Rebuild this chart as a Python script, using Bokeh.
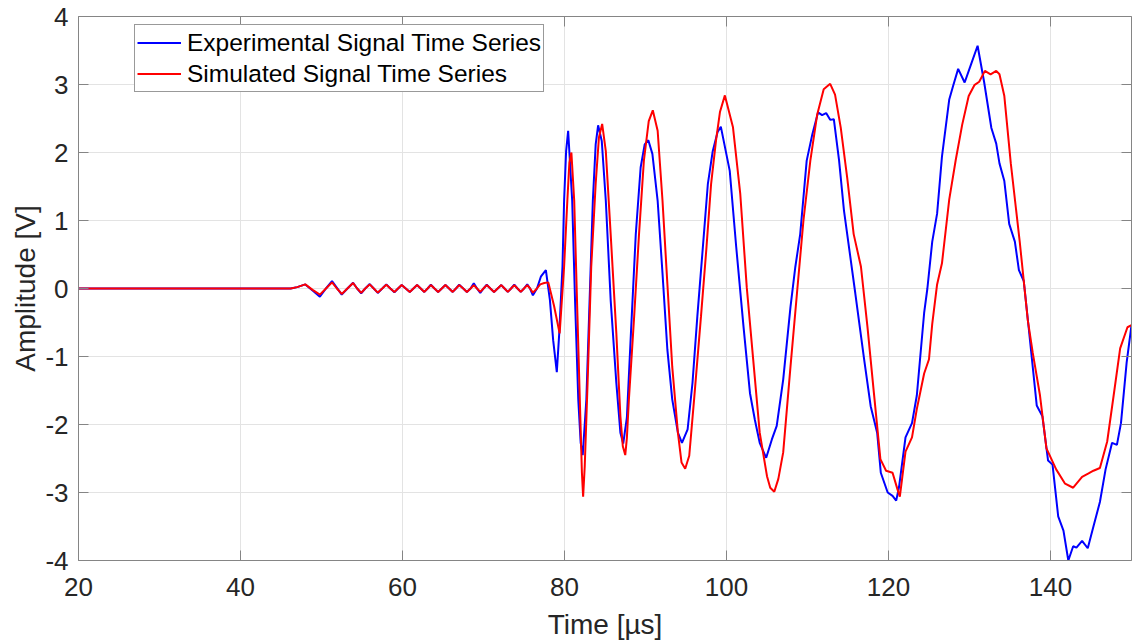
from bokeh.plotting import figure
from bokeh.models import Range1d, LinearAxis, FixedTicker, Legend, LegendItem
from bokeh.embed import file_html
from bokeh.resources import INLINE

# ---- data ----
exp_time = [20.0, 46.2, 47.0, 48.0, 48.9, 49.8, 50.55, 51.3, 51.9, 52.5, 53.2, 53.9, 54.4, 54.9,
            55.4, 55.95, 56.45, 56.95, 57.5, 58.0, 58.5, 59.0, 59.45, 59.9, 60.4, 60.9, 61.35,
            61.8, 62.25, 62.7, 63.1, 63.5, 63.95, 64.4, 64.85, 65.3, 65.75, 66.2, 66.6, 67.0,
            67.5, 67.95, 68.4, 68.8, 69.2, 69.6, 70.0, 70.4, 70.85, 71.3, 71.75, 72.2, 72.6,
            73.0, 73.4, 73.8, 74.2, 74.6, 75.0, 75.4, 75.75, 76.1, 76.6, 77.1, 77.7, 78.2,
            78.6, 79.05, 79.35, 79.75, 79.95, 80.2, 80.45, 80.95, 81.3, 81.7, 82.0, 82.25,
            82.7, 83.1, 83.5, 83.85, 84.15, 84.6, 85.1, 85.7, 86.4, 86.9, 87.25, 87.7, 88.2,
            88.8, 89.4, 89.9, 90.35, 90.85, 91.5, 92.1, 92.7, 93.3, 94.0, 94.5, 95.2, 95.8,
            96.4, 97.05, 97.7, 98.3, 98.9, 99.3, 100.4, 101.2, 102.1, 102.9, 103.5, 104.1,
            104.9, 105.6, 106.2, 107.0, 107.9, 108.5, 109.1, 109.9, 110.6, 111.3, 111.8,
            112.3, 112.8, 113.25, 113.9, 114.5, 115.9, 117.0, 117.8, 118.6, 119.05, 119.9,
            120.5, 120.95, 121.3, 122.1, 122.9, 123.5, 124.4, 124.8, 125.4, 126.0, 126.6,
            127.5, 128.0, 128.6, 129.4, 130.2, 131.0, 131.8, 132.7, 133.3, 133.7, 134.3,
            134.9, 135.6, 136.1, 136.7, 137.3, 138.3, 139.0, 139.7, 140.25, 140.95, 141.6,
            142.2, 142.8, 143.2, 143.9, 144.6, 145.3, 146.1, 146.8, 147.6, 148.2, 148.7,
            149.4, 150.0]
exp_amp = [0.0, 0.0, 0.02, 0.06, -0.03, -0.12, 0.0, 0.11, 0.01, -0.09, 0.0, 0.085, 0.0, -0.07,
           0.0, 0.065, 0.0, -0.065, 0.0, 0.06, 0.0, -0.055, 0.0, 0.05, 0.0, -0.05, 0.0,
           0.05, 0.0, -0.05, 0.0, 0.055, 0.0, -0.05, 0.0, 0.05, 0.0, -0.05, 0.0, 0.055,
           0.0, -0.05, 0.0, 0.075, 0.0, -0.065, 0.0, 0.055, 0.0, -0.05, 0.0, 0.05, 0.0,
           -0.05, 0.0, 0.055, 0.0, -0.05, 0.0, 0.06, 0.0, -0.10, 0.0, 0.18, 0.27, -0.17,
           -0.76, -1.23, -0.66, 0.32, 1.29, 2.02, 2.32, 1.29, -0.17, -1.63, -2.27, -2.45,
           -1.63, -0.17, 1.29, 2.12, 2.40, 2.17, 1.29, -0.17, -1.39, -2.12, -2.28, -1.9, -0.66,
           0.80, 1.78, 2.12, 2.18, 1.98, 1.29, 0.22, -0.9, -1.63, -2.12, -2.27, -2.07, -1.39,
           -0.41, 0.56, 1.54, 2.02, 2.30, 2.38, 1.73, 0.61, -0.56, -1.54, -1.93, -2.27,
           -2.49, -2.22, -2.02, -1.34, -0.27, 0.32, 0.80, 1.88, 2.27, 2.59, 2.55,
           2.58, 2.48, 2.49, 1.88, 1.15, -0.07, -1.05, -1.73, -2.12, -2.71, -3.0,
           -3.05, -3.12, -2.92, -2.19, -1.98, -1.57, -0.36, 0.0, 0.69, 1.10, 1.94,
           2.78, 2.99, 3.23, 3.03, 3.30, 3.57, 3.04, 2.36, 2.13, 1.84, 1.58,
           0.95, 0.69, 0.27, 0.11, -0.57, -1.72, -1.88, -2.53, -2.59, -3.35, -3.56,
           -4.0, -3.79, -3.81, -3.71, -3.82, -3.50, -3.14, -2.66, -2.27, -2.30, -1.98,
           -1.09, -0.54]

sim_time = [20.0, 46.2, 47.0, 48.0, 48.9, 49.8, 50.55, 51.3, 51.9, 52.5, 53.2, 53.9, 54.4, 54.9,
            55.4, 55.95, 56.45, 56.95, 57.5, 58.0, 58.5, 59.0, 59.45, 59.9, 60.4, 60.9, 61.35,
            61.8, 62.25, 62.7, 63.1, 63.5, 63.95, 64.4, 64.85, 65.3, 65.75, 66.2, 66.6, 67.0,
            67.5, 67.95, 68.4, 68.8, 69.2, 69.6, 70.0, 70.4, 70.85, 71.3, 71.75, 72.2, 72.6,
            73.0, 73.4, 73.8, 74.2, 74.6, 75.0, 75.4, 75.75, 76.1, 76.6, 77.0, 77.5, 78.0,
            78.7, 79.4, 79.95, 80.35, 80.6, 80.85, 81.2, 81.6, 81.95, 82.15, 82.3, 82.5,
            82.85, 83.3, 83.85, 84.25, 84.65, 85.1, 85.7, 86.4, 86.9, 87.2, 87.5, 87.7,
            87.95, 88.6, 89.2, 89.8, 90.4, 90.9, 91.5, 92.1, 92.7, 93.3, 94.0, 94.45, 94.9,
            95.4, 96.0, 96.85, 97.5, 98.1, 98.7, 99.2, 99.8, 100.8, 101.7, 102.5, 103.3,
            104.1, 105.0, 105.4, 105.9, 106.4, 107.0, 107.9, 108.7, 109.5, 110.35, 111.2,
            112.0, 112.8, 113.4, 114.1, 114.9, 115.7, 116.6, 117.4, 118.2, 119.0, 119.7,
            120.5, 121.1, 121.4, 122.1, 122.9, 123.5, 124.4, 125.0, 125.4, 126.0, 126.6,
            127.5, 128.3, 129.1, 129.9, 130.6, 131.2, 131.9, 132.6, 133.3, 133.7, 134.3,
            135.1, 136.2, 137.2, 137.8, 138.7, 139.5, 140.7, 141.8, 142.8, 143.9, 144.7,
            145.3, 146.1, 147.0, 147.8, 148.6, 149.5, 150.0]
sim_amp = [0.0, 0.0, 0.02, 0.06, -0.02, -0.09, 0.0, 0.09, 0.0, -0.08, 0.0, 0.08, 0.0, -0.065,
           0.0, 0.06, 0.0, -0.06, 0.0, 0.055, 0.0, -0.05, 0.0, 0.05, 0.0, -0.05, 0.0,
           0.05, 0.0, -0.05, 0.0, 0.05, 0.0, -0.05, 0.0, 0.05, 0.0, -0.05, 0.0, 0.05,
           0.0, -0.05, 0.0, 0.05, 0.0, -0.05, 0.0, 0.05, 0.0, -0.05, 0.0, 0.05, 0.0,
           -0.05, 0.0, 0.05, 0.0, -0.05, 0.0, 0.05, 0.0, -0.06, 0.0, 0.06, 0.08, 0.09,
           -0.25, -0.66, 0.32, 1.29, 1.85, 2.0, 1.29, -0.41, -1.88, -2.71, -3.06, -2.61,
           -1.39, 0.32, 1.54, 2.22, 2.42, 2.02, 0.80, -0.66, -1.88, -2.32, -2.45, -2.2,
           -1.63, -0.41, 0.8, 1.88, 2.46, 2.62, 2.32, 1.29, 0.07, -1.15, -2.12, -2.56, -2.65,
           -2.46, -1.63, -0.41, 0.56, 1.54, 2.17, 2.6, 2.84, 2.37, 1.39, 0.02, -1.05,
           -2.12, -2.76, -2.93, -2.99, -2.8, -2.41, -1.15, -0.07, 1.0, 1.88, 2.56,
           2.93, 3.01, 2.85, 2.37, 1.63, 0.80, 0.32, -0.56, -1.54, -2.51, -2.68,
           -2.71, -2.95, -3.06, -2.40, -2.19, -1.77, -1.25, -1.04, -0.52, 0.06, 0.37,
           1.31, 1.89, 2.41, 2.83, 2.99, 3.04, 3.20, 3.15, 3.20, 3.15, 2.83,
           1.84, 0.69, -0.47, -0.94, -1.57, -2.35, -2.66, -2.87, -2.93, -2.77, -2.72,
           -2.68, -2.64, -2.25, -1.57, -0.88, -0.57, -0.54]

series_labels = ["Experimental Signal Time Series", "Simulated Signal Time Series"]
x_ticks = [20, 40, 60, 80, 100, 120, 140]
y_ticks = [-4, -3, -2, -1, 0, 1, 2, 3, 4]
y_tick_labels = ["-4", "-3", "-2", "-1", "0", "1", "2", "3", "4"]
x_label = "Time [µs]"
y_label = "Amplitude [V]"

FONT = "Liberation Sans"
AXIS_COLOR = "#858585"
TEXT_COLOR = "#262626"

p = figure(width=1132, height=642, output_backend="svg", toolbar_location=None,
           x_range=Range1d(20, 150), y_range=Range1d(-4, 4),
           min_border_left=78, min_border_right=1, min_border_top=16, min_border_bottom=80)
p.outline_line_color = None
p.background_fill_color = "white"
p.border_fill_color = "white"

r_exp = p.line(exp_time, exp_amp, line_color="#0000ff", line_width=2)
r_sim = p.line(sim_time, sim_amp, line_color="#ff0000", line_width=2)

# extra axes for the MATLAB-style box (ticks only, no labels)
p.add_layout(LinearAxis(), "right")
p.add_layout(LinearAxis(), "above")

for ax in p.xaxis:
    ax.ticker = FixedTicker(ticks=x_ticks)
for ax in p.yaxis:
    ax.ticker = FixedTicker(ticks=y_ticks)
    ax.major_label_overrides = {t: l for t, l in zip(y_ticks, y_tick_labels)}

for ax in p.axis:
    ax.axis_line_color = AXIS_COLOR
    ax.axis_line_width = 1
    ax.major_tick_line_color = AXIS_COLOR
    ax.major_tick_in = 10
    ax.major_tick_out = 0
    ax.minor_tick_line_color = None
    ax.major_label_text_font = FONT
    ax.major_label_text_font_size = "26px"
    ax.major_label_text_color = TEXT_COLOR
    ax.axis_label_text_font = FONT
    ax.axis_label_text_font_size = "28px"
    ax.axis_label_text_font_style = "normal"
    ax.axis_label_text_color = TEXT_COLOR

bottom = p.below[0]
bottom.axis_label = x_label
bottom.major_label_standoff = 17
bottom.axis_label_standoff = 10
left = p.left[0]
left.axis_label = y_label
left.major_label_standoff = 10
left.axis_label_standoff = 1
for ax in (p.right[0], p.above[0]):
    ax.major_label_text_font_size = "1px"
    ax.major_label_text_color = None
    ax.major_label_standoff = 0
    ax.axis_label_standoff = 0

p.xgrid.ticker = FixedTicker(ticks=x_ticks)
p.ygrid.ticker = FixedTicker(ticks=y_ticks)
p.grid.grid_line_color = "#e3e3e3"
p.grid.grid_line_width = 1

legend = Legend(items=[LegendItem(label=series_labels[0], renderers=[r_exp]),
                       LegendItem(label=series_labels[1], renderers=[r_sim])],
                location=(56, 468))
legend.label_text_font = FONT
legend.label_text_font_size = "24.5px"
legend.label_text_color = "#000000"
legend.border_line_color = "#333333"
legend.border_line_width = 1
legend.background_fill_color = "white"
legend.background_fill_alpha = 1
legend.glyph_width = 44
legend.glyph_height = 31
legend.label_height = 31
legend.label_standoff = 6
legend.spacing = 0
legend.padding = 2
legend.margin = 0
p.add_layout(legend)

open("out.html", "w").write(file_html(p, INLINE))
